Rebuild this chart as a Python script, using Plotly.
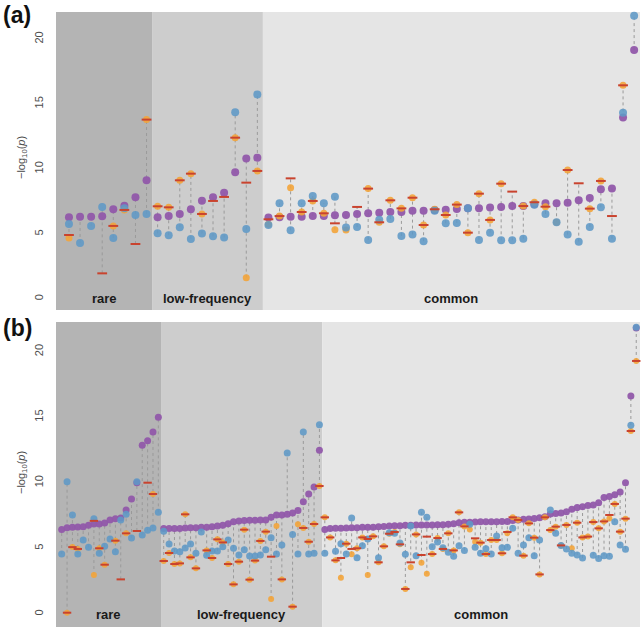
import plotly.graph_objects as go

# ---------------- Panel (a) data ----------------
a_group_names = ["rare", "low-frequency", "common"]
a_group_counts = [8, 10, 34]
a_purple = [6.28, 6.33, 6.33, 6.36, 6.90, 7.18, 7.82, 9.13,
            6.28, 6.38, 6.54, 6.90, 7.56, 7.82, 8.18, 9.74, 10.80, 10.87,
            6.26, 6.28, 6.33, 6.33, 6.38, 6.38, 6.44, 6.46, 6.54, 6.59, 6.64, 6.69,
            6.69, 6.79, 6.79, 6.85, 6.87, 6.92, 6.97, 6.97, 7.03, 7.08, 7.15, 7.15,
            7.28, 7.36, 7.36, 7.41, 7.59, 7.77, 8.44, 8.49, 13.97, 19.15]
a_blue = [5.77, 4.31, 5.62, 7.08, 4.69, 6.97, 6.46, 6.54,
          5.05, 4.90, 5.51, 4.62, 5.03, 4.82, 4.72, 14.36, 5.38, 15.74,
          5.69, 7.36, 5.28, 7.36, 7.92, 7.36, 7.87, 5.49, 5.54, 4.54, 6.10, 6.15,
          4.85, 4.95, 4.44, 6.79, 5.82, 5.85, 6.97, 4.54, 5.10, 4.51, 4.51, 4.64,
          7.25, 6.54, 5.90, 4.95, 4.41, 5.54, 7.05, 4.64, 14.33, 21.79]
a_orange = [4.69, None, None, None, 5.62, 6.85, None, 13.80,
            7.13, 7.05, 9.13, 9.64, 6.54, None, None, 12.41, 1.64, 9.85,
            5.75, 6.38, 8.56, 6.69, 7.54, 6.59, 5.33, 5.31, None, 8.49, 5.90, 7.59,
            6.97, 7.79, 5.69, 6.90, 6.46, 7.26, 5.10, 8.10, 6.08, 8.87, None, 7.15,
            7.44, 7.10, 5.90, 9.92, None, 6.95, 9.08, None, 16.44, None]
a_red = [4.92, None, None, 1.97, 5.62, 6.85, 4.23, 13.80,
         7.13, 7.05, 9.13, 9.64, 6.54, 7.54, 7.85, 12.41, 8.95, 9.85,
         6.13, 6.38, 9.28, 6.69, 7.54, 6.59, 5.82, None, 7.08, 8.49, 5.90, 7.59,
         6.97, 7.79, 5.69, 6.90, 6.46, 7.26, 5.10, 8.10, 6.08, 8.87, 8.26, 7.15,
         7.44, 7.10, None, 9.92, 8.90, 6.95, 9.08, 6.38, 16.44, None]

# ---------------- Panel (b) data ----------------
b_group_names = ["rare", "low-frequency", "common"]
b_group_counts = [19, 30, 59]
b_purple = [6.45, 6.58, 6.61, 6.63, 6.66, 6.76, 6.86, 6.86, 6.94, 7.17, 7.27, 7.32, 7.93,
            8.77, 10.00, 12.86, 13.21, 13.88, 15.00,
            6.51, 6.51, 6.51, 6.51, 6.56, 6.58, 6.58, 6.61, 6.61, 6.66, 6.71, 6.76, 6.89,
            7.04, 7.09, 7.12, 7.14, 7.14, 7.17, 7.17, 7.37, 7.55, 7.55, 7.60, 7.70, 7.90,
            8.56, 9.15, 9.68, 12.48,
            6.45, 6.51, 6.53, 6.53, 6.56, 6.58, 6.58, 6.61, 6.61, 6.61, 6.66, 6.68, 6.71,
            6.73, 6.73, 6.76, 6.76, 6.78, 6.78, 6.78, 6.78, 6.81, 6.81, 6.84, 6.89, 6.96,
            6.99, 6.99, 7.01, 7.04, 7.04, 7.04, 7.04, 7.06, 7.06, 7.12, 7.17, 7.22, 7.24,
            7.29, 7.34, 7.42, 7.62, 7.67, 7.70, 7.80, 7.98, 8.11, 8.18, 8.28, 8.31, 8.49,
            8.89, 8.95, 9.10, 9.30, 10.01, 16.62, 21.80]
b_blue = [4.57, 10.09, 7.55, 4.57, 5.64, 5.08, 7.27, 4.63, 5.16, 5.72, 4.75, 7.17, 7.60,
          5.79, 10.09, 6.02, 6.38, 6.56, 7.75,
          6.30, 5.34, 4.80, 4.75, 5.03, 5.34, 4.63, 6.25, 4.47, 4.80, 4.80, 5.13, 5.64,
          5.01, 4.50, 4.90, 4.42, 4.42, 4.50, 4.90, 5.82, 4.57, 5.26, 12.27, 6.07, 4.57,
          13.88, 4.57, 4.63, 14.43,
          4.63, None, 4.78, 5.36, 4.57, 7.32, 4.29, 5.21, 5.72, None, 4.29, None, 6.20,
          6.15, 5.41, 4.55, 6.71, 4.45, 7.75, 7.37, 5.13, 5.49, 5.06, 4.70, 4.40, 5.21,
          4.85, 6.84, 5.08, 4.63, 4.98, 4.57, 5.95, 5.06, 5.08, 6.53, 4.63, 5.26, 5.82,
          4.45, 5.64, None, 7.93, 6.15, 5.23, 4.96, 4.63, 4.50, 4.27, None, 4.47, 4.24,
          4.45, 4.40, 7.04, 5.26, 4.93, 14.38, 21.86]
b_orange = [None, 0.10, 5.10, 4.96, None, None, 2.97, 5.01, 3.76, None, 5.59, None, 6.15,
            None, None, None, None, 9.15, None,
            4.04, 4.65, 3.81, 3.86, 7.60, 4.32, 3.48, None, 4.85, 4.27, 5.69, 5.46, 3.81,
            2.26, 3.99, 6.43, 2.62, 4.07, 5.57, 6.28, 1.14, 6.71, 2.64, None, 0.56, 6.84,
            6.56, 5.51, 6.86, 9.76,
            7.37, 5.84, 4.09, 2.77, 5.36, 4.55, 5.01, 5.84, 2.97, 5.92, 3.94, 5.16, 6.12,
            6.25, 5.31, 1.91, 3.56, 6.07, 3.91, 3.07, 4.57, 5.79, 4.96, 6.15, 4.85, 7.75,
            6.68, 6.45, 5.51, 5.44, 4.57, 5.64, 5.64, 4.63, 6.15, 7.37, 7.17, 4.45, 6.91,
            5.82, 3.02, 7.37, 6.40, 6.66, 5.23, 6.79, 5.01, 6.96, 5.84, 5.90, 7.01, 6.53,
            7.06, 7.29, 8.39, 6.28, 7.27, 13.95, 19.29]
b_red = [None, 0.10, 5.10, 4.96, None, None, 7.10, 5.01, 3.76, None, 5.59, 2.64, 6.15,
         None, 6.33, None, 10.01, 9.15, None,
         4.04, 4.65, 3.81, 3.86, 7.60, 4.32, 3.48, None, 4.85, 4.27, 5.69, 5.46, 3.81,
         2.26, 3.99, 6.43, 2.62, 4.07, 5.57, 6.28, 4.37, None, 2.64, None, 0.56, None,
         6.56, 5.51, 6.86, 9.76,
         7.37, 5.84, 4.09, 4.27, 5.36, 4.96, 5.01, 5.84, 5.72, 5.92, 3.94, 5.16, 6.12,
         6.25, 5.31, 1.91, 3.94, 6.07, 4.50, 5.90, 4.57, 5.79, 4.96, 6.15, 4.85, 7.75,
         6.68, None, 5.77, 5.44, 4.57, 5.64, 5.64, 4.63, 6.25, 7.37, 7.17, 4.45, 6.91,
         5.82, 3.02, 7.37, 6.40, 6.66, 5.23, 6.79, None, 6.96, 5.84, 5.90, 7.01, 6.53,
         7.06, 7.55, 8.39, 6.28, 7.27, 13.95, 19.29]

y_tick_vals = [0, 5, 10, 15, 20]
y_tick_text = ["0", "5", "10", "15", "20"]

# ---------------- styling ----------------
C_PURPLE = "#9159AA"
C_BLUE = "#5F98C6"
C_ORANGE = "#F3A43A"
C_RED = "#C9432E"
C_LINE = "#9A9A9A"
BG = ["#B4B4B4", "#CDCDCD", "#E5E5E5"]
TXT = "#4D4D4D"

W, H = 643, 631

fig = go.Figure()


def px_x(p):
    return p / W


def px_y(p):
    return 1 - p / H


def add_panel(fig, xa, ya, purple, blue, orange, red, names, counts, xr, msize):
    n = len(purple)
    xs = list(range(n))
    lx, ly = [], []
    for i in xs:
        vals = [v for v in (purple[i], blue[i], orange[i], red[i]) if v is not None]
        lx += [i, i, None]
        ly += [min(vals), max(vals), None]
    fig.add_trace(go.Scatter(x=lx, y=ly, mode="lines", xaxis=xa, yaxis=ya,
                             line=dict(color=C_LINE, width=1, dash="dot"),
                             hoverinfo="skip", showlegend=False, cliponaxis=False))
    fig.add_trace(go.Scatter(x=xs, y=purple, mode="markers", xaxis=xa, yaxis=ya, cliponaxis=False,
                             marker=dict(color=C_PURPLE, size=msize, opacity=0.95,
                                         line=dict(width=0)), showlegend=False))
    fig.add_trace(go.Scatter(x=xs, y=orange, mode="markers", xaxis=xa, yaxis=ya, cliponaxis=False,
                             marker=dict(color=C_ORANGE, size=msize - 1, opacity=0.9,
                                         line=dict(width=0)), showlegend=False))
    fig.add_trace(go.Scatter(x=xs, y=blue, mode="markers", xaxis=xa, yaxis=ya, cliponaxis=False,
                             marker=dict(color=C_BLUE, size=msize, opacity=0.88,
                                         line=dict(width=0)), showlegend=False))
    fig.add_trace(go.Scatter(x=xs, y=red, mode="markers", xaxis=xa, yaxis=ya, cliponaxis=False,
                             marker=dict(symbol="line-ew", color=C_RED, size=msize - 1,
                                         line=dict(color=C_RED, width=2)),
                             showlegend=False))
    xref = "x" if xa == "x" else "x2"
    yref = "y" if ya == "y" else "y2"
    start = -0.5
    bounds = []
    for c in counts:
        bounds.append((start, start + c))
        start += c
    bounds[0] = (xr[0], bounds[0][1])
    bounds[-1] = (bounds[-1][0], xr[1])
    for k, (x0, x1) in enumerate(bounds):
        fig.add_shape(type="rect", xref=xref, yref=yref + " domain", x0=x0, x1=x1,
                      y0=0, y1=1, fillcolor=BG[k], line=dict(width=0), layer="below")
        fig.add_annotation(x=(x0 + x1) / 2, y=0, xref=xref, yref=yref,
                           text="<b>%s</b>" % names[k],
                           showarrow=False, yanchor="middle",
                           font=dict(family="Liberation Sans, Arial", size=13, color="#1a1a1a"))


a_xr = [-1.17, 51.53]
b_xr = [-1.06, 107.7]
add_panel(fig, "x", "y", a_purple, a_blue, a_orange, a_red, a_group_names, a_group_counts, a_xr, 8)
add_panel(fig, "x2", "y2", b_purple, b_blue, b_orange, b_red, b_group_names, b_group_counts, b_xr, 7)

xdom = [px_x(56), px_x(640)]
axis_common = dict(showgrid=False, zeroline=False, showline=False)
yaxis_common = dict(showgrid=False, zeroline=False, showline=False,
                    tickvals=y_tick_vals, ticktext=y_tick_text, tickangle=-90,
                    ticks="", ticklabelstandoff=10,
                    tickfont=dict(family="Liberation Sans, Arial", size=11, color=TXT))

fig.update_layout(
    width=W, height=H, autosize=False,
    margin=dict(l=0, r=0, t=0, b=0),
    paper_bgcolor="white", plot_bgcolor="white",
    xaxis=dict(domain=xdom, range=a_xr, showticklabels=False, ticks="", anchor="y", **axis_common),
    yaxis=dict(domain=[px_y(310), px_y(12)], range=[-0.85, 22.08], anchor="x", **yaxis_common),
    xaxis2=dict(domain=xdom, range=b_xr, showticklabels=False, ticks="", anchor="y2", **axis_common),
    yaxis2=dict(domain=[px_y(627), px_y(322)], range=[-0.99, 22.26], anchor="x2", **yaxis_common),
)

title_txt = "−log<sub>10</sub>(<i>p</i>)"
for lab, ytop, ymid in (("(a)", 0, 158), ("(b)", 313, 473)):
    fig.add_annotation(x=px_x(1), y=px_y(ytop), xref="paper", yref="paper", text="<b>%s</b>" % lab,
                       showarrow=False, xanchor="left", yanchor="top",
                       font=dict(family="Liberation Sans, Arial", size=23, color="#111111"))
    fig.add_annotation(x=px_x(22), y=px_y(ymid), xref="paper", yref="paper", text=title_txt,
                       showarrow=False, textangle=-90, xanchor="center", yanchor="middle",
                       font=dict(family="Liberation Sans, Arial", size=11, color=TXT))

fig.write_html("out.html", config={"displayModeBar": False},
               post_script="document.body.style.margin='0';")
